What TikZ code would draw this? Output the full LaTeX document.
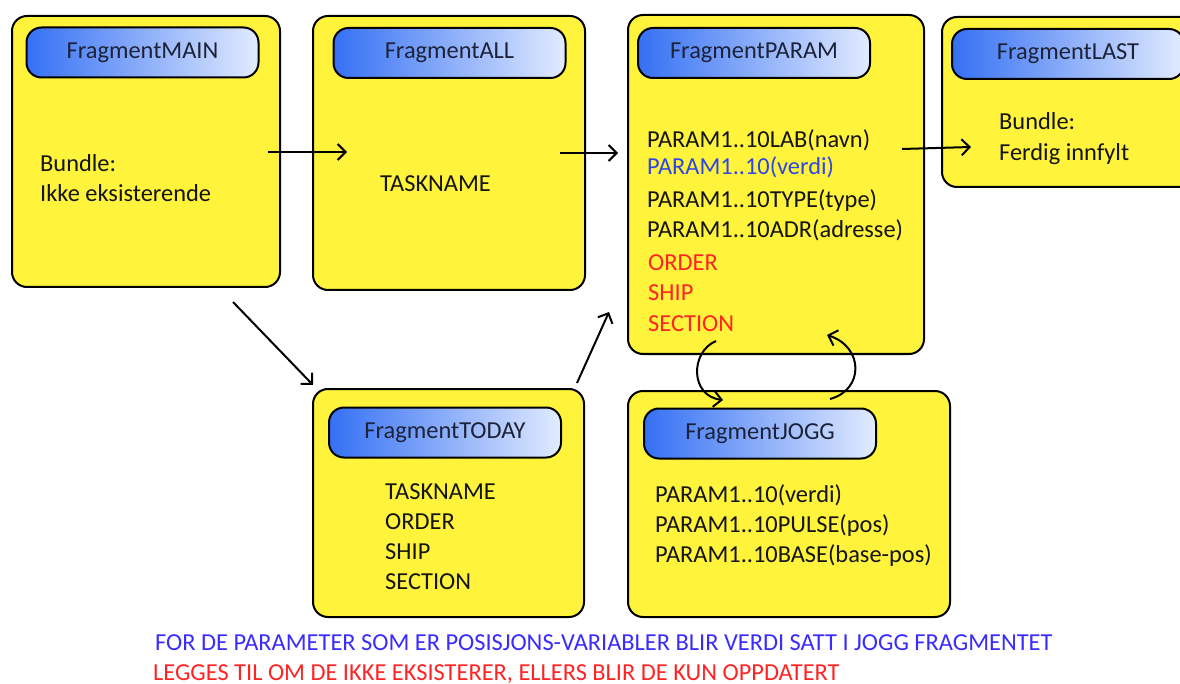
\documentclass[tikz,border=0pt]{standalone}
\usepackage{fontspec}
\setmainfont{Carlito}
\usetikzlibrary{arrows.meta}

\definecolor{boxfill}{HTML}{FFF33B}
\definecolor{hdrdark}{HTML}{3570F4}
\definecolor{hdrlight}{HTML}{E2EBFF}
\definecolor{txt}{HTML}{141414}
\definecolor{hdrtxt}{HTML}{1C2238}
\definecolor{bluetxt}{HTML}{2F45E8}
\definecolor{redtxt}{HTML}{FF2424}
\definecolor{noteblue}{HTML}{3A2BFF}

\tikzset{
  fragbox/.style={draw=black, line width=2pt, fill=boxfill, rounded corners=15pt,
    inner sep=0pt},
  fraghdr/.style={draw=black, line width=2pt, rounded corners=15pt,
    left color=hdrdark, right color=hdrlight, inner sep=0pt,
    minimum width=232pt, minimum height=50pt, text=hdrtxt,
    font=\fontsize{24.4}{28}\selectfont},
  line/.style={anchor=base west, inner sep=0pt, text=txt,
    font=\fontsize{24.4}{28}\selectfont},
  flow/.style={line width=2pt, -{Straight Barb[length=8pt,width=16pt]}},
}

\begin{document}
\begin{tikzpicture}[x=1pt,y=-1pt]
\clip (0,0) rectangle (1180,684);
\fill[white] (0,0) rectangle (1180,684);

% fragment boxes
\node[fragbox, minimum width=268pt, minimum height=271pt] (main)  at (146,151.5) {};
\node[fragbox, minimum width=272pt, minimum height=274pt] (all)   at (449,153) {};
\node[fragbox, minimum width=296pt, minimum height=339pt] (param) at (776,184.5) {};
\node[fragbox, minimum width=258pt, minimum height=170pt] (last)  at (1071,102) {};
\node[fragbox, minimum width=271pt, minimum height=228pt] (today) at (448.5,503) {};
\node[fragbox, minimum width=322pt, minimum height=226pt] (jogg)  at (789,504) {};

% headers
\node[fraghdr] (mainh)  at (142.5,52.5) {FragmentMAIN};
\node[fraghdr] (allh)   at (449.5,53)   {FragmentALL};
\node[fraghdr] (paramh) at (754,53)     {FragmentPARAM};
\node[fraghdr] (lasth)  at (1068,54)    {FragmentLAST};
\node[fraghdr] (todayh) at (445,432.5)  {FragmentTODAY};
\node[fraghdr] (joggh)  at (760,433.5)  {FragmentJOGG};

% box contents
\node[line] (m1) at (40,172) {Bundle:};
\node[line] (m2) at (40,202) {Ikke eksisterende};

\node[line] (al1) at (380,192) {TASKNAME};

\node[line] (p1) at (647,148) {PARAM1..10LAB(navn)};
\node[line, text=bluetxt] (p2) at (647,175) {PARAM1..10(verdi)};
\node[line] (p3) at (647,208) {PARAM1..10TYPE(type)};
\node[line] (p4) at (647,238) {PARAM1..10ADR(adresse)};
\node[line, text=redtxt] (p5) at (648,271) {ORDER};
\node[line, text=redtxt] (p6) at (648,301) {SHIP};
\node[line, text=redtxt] (p7) at (648,331) {SECTION};

\node[line] (l1) at (999,130) {Bundle:};
\node[line] (l2) at (999,161) {Ferdig innfylt};

\node[line] (t1) at (385,499) {TASKNAME};
\node[line] (t2) at (385,529) {ORDER};
\node[line] (t3) at (385,559) {SHIP};
\node[line] (t4) at (385,589) {SECTION};

\node[line] (j1) at (655,502) {PARAM1..10(verdi)};
\node[line] (j2) at (655,532) {PARAM1..10PULSE(pos)};
\node[line] (j3) at (655,562) {PARAM1..10BASE(base-pos)};

% notes
\node[line, text=noteblue] (n1) at (155,650) {FOR DE PARAMETER SOM ER POSISJONS-VARIABLER BLIR VERDI SATT I JOGG FRAGMENTET};
\node[line, text=redtxt] (n2) at (153,680) {LEGGES TIL OM DE IKKE EKSISTERER, ELLERS BLIR DE KUN OPPDATERT};

% connector end points
\coordinate (a1s) at (268,152);  \coordinate (a1e) at (347,152);
\coordinate (a2s) at (560,153);  \coordinate (a2e) at (618,153);
\coordinate (a3s) at (902,149);  \coordinate (a3e) at (971,147);
\coordinate (a4s) at (233,302);  \coordinate (a4e) at (313,385);
\coordinate (a5s) at (577,383);  \coordinate (a5e) at (609,312);
\coordinate (c1s) at (716,341);  \coordinate (c1e) at (723,400);
\coordinate (c2s) at (830,399);  \coordinate (c2e) at (827,335);

% flow between fragments
\draw[flow] (a1s) -- (a1e);
\draw[flow] (a2s) -- (a2e);
\draw[flow] (a3s) -- (a3e);
\draw[flow] (a4s) -- (a4e);
\draw[flow] (a5s) -- (a5e);
\draw[flow] (c1s) .. controls (690,352) and (690,396) .. (c1e);
\draw[flow] (c2s) .. controls (864,390) and (864,347) .. (c2e);
\end{tikzpicture}
\end{document}
